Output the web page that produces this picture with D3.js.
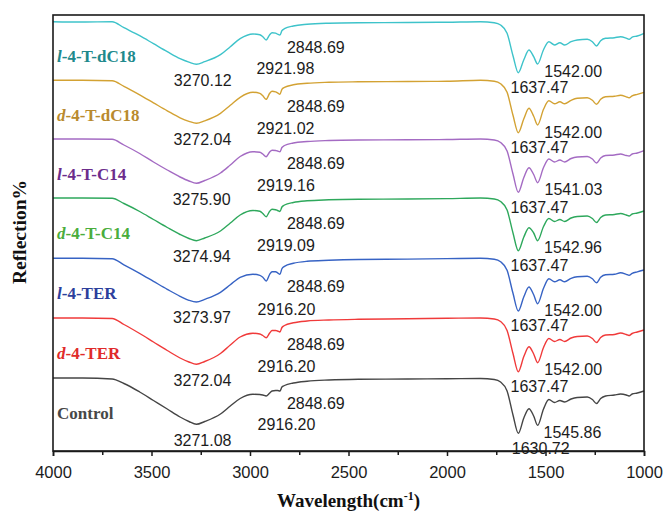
<!DOCTYPE html>
<html>
<head>
<meta charset="utf-8">
<script src="https://cdn.jsdelivr.net/npm/d3@7"></script>
<style>
  body { margin: 0; background: #fff; }
</style>
</head>
<body>
<div id="chart_ftir"></div>
<script>
// wavenumber grid shared by all spectra (cm-1)
var wavenumbers = [4000, 3850, 3700, 3640, 3560, 3490, 3420, 3355, 3310, 3272,
  3230, 3150, 3100, 3050, 2985, 2950, 2935, 2918, 2900, 2888,
  2870, 2860, 2848, 2838, 2825, 2780, 2710, 2600, 2450, 2200,
  2000, 1830, 1760, 1728, 1695, 1665, 1638, 1610, 1584, 1560,
  1540, 1510, 1483, 1454, 1427, 1403, 1370, 1339, 1288, 1262,
  1241, 1220, 1195, 1150, 1119, 1090, 1076, 1060, 1034, 1000];

// series names (top to bottom) and their vertical offsets
var names = ["l|-4-T-dC18", "d|-4-T-dC18", "l|-4-T-C14", "d|-4-T-C14", "l|-4-TER", "d|-4-TER", "|Control"];
var offsets = [429.3, 370.7, 312, 253, 192.7, 133, 73];

// absorption depth of each spectrum below its offset
var depth_l4TdC18 = [0, 0.3, 0, 6, 14, 22, 30, 37, 40.5, 42.6,
  40, 33, 25, 17, 12.3, 13, 15, 18.3, 13, 11,
  11.5, 12.5, 13.3, 9, 7, 4.3, 2.6, 1.5, 1, 0.8,
  0.5, 0, 1, 3.3, 11.6, 34, 51, 38, 28.3, 35,
  42.3, 28, 20, 23.3, 21, 23.3, 20, 18.3, 17.6, 20,
  24.3, 19, 16.6, 16, 15, 16.5, 17.6, 15.5, 14.3, 11.6];
var depth_d4TdC18 = [0, 0, 0.5, 6, 14.5, 22.5, 30.5, 37.5, 41, 43,
  40.5, 33, 25, 17, 12, 13, 15.5, 19, 13, 11,
  11.5, 12.5, 14, 9, 7, 4.5, 3, 2, 1.5, 1.2,
  1, 0, 1, 3.5, 12, 35, 52.4, 38.5, 28, 36,
  44.7, 29, 20.5, 23.5, 21.5, 23.5, 20, 18, 17.5, 20,
  24, 19, 16.5, 16, 15, 16.5, 17.5, 15.5, 14, 12];
var depth_l4TC14 = [0, 0, 0.3, 6, 14.5, 23, 31, 38, 42, 44.3,
  41.5, 34, 26, 17.5, 12.7, 13.3, 15, 17.7, 13, 11.3,
  11.5, 12, 12.7, 8.5, 6.5, 4, 2.5, 1.5, 1, 0.8,
  0.5, 0, 1, 3.5, 12, 35, 53.3, 38.5, 28.7, 35.5,
  43.7, 28.5, 20, 23, 21, 23, 19.5, 18, 17.5, 20,
  24, 19, 16.5, 16, 15, 16.5, 17, 15, 14, 11.7];
var depth_d4TC14 = [0, 0, 0.3, 5.5, 13.5, 21.5, 29.5, 36.5, 40.5, 42.7,
  40, 33, 25, 17, 12.5, 13.3, 15.5, 18.7, 13.2, 11.3,
  11.7, 12.5, 13.5, 9, 7, 4.5, 2.8, 1.8, 1.2, 1,
  0.6, 0, 1, 3.5, 12, 35, 52.7, 39, 29.7, 35,
  42.7, 28.5, 20.5, 23.5, 21.5, 23.5, 20, 18.5, 18, 20.5,
  24.5, 19.5, 17, 16.5, 15.5, 17, 18, 16, 15, 13];
var depth_l4TER = [0, 0, 0.5, 6.5, 15, 23, 31, 38, 42, 43.7,
  41, 34, 26.5, 19, 16, 17, 19, 22.7, 16, 13.5,
  13.5, 14.5, 16, 10.5, 8, 5, 3, 2, 1.2, 0.8,
  0.3, 0, 1, 3.5, 12, 35, 52.7, 38.5, 28.7, 36.5,
  45.4, 30, 20.5, 23.5, 21.5, 23.5, 20, 18.5, 18, 20.5,
  24.5, 19, 16.5, 16, 14.5, 16, 17, 15, 13.5, 11.7];
var depth_d4TER = [0, 0, 0.5, 6.5, 15.5, 24, 32.5, 40, 44, 46.3,
  43.5, 35.5, 27, 19, 15.3, 16, 17.5, 19.7, 15, 12.5,
  12.5, 13, 14, 9.5, 7.5, 4.8, 3, 2, 1.3, 0.8,
  0.3, 0, 1, 3.5, 12.5, 35.5, 53.7, 38.5, 28.7, 36,
  44.7, 29.5, 20.5, 23.5, 21.5, 23.5, 20, 18.5, 18, 20.5,
  24.5, 19.5, 17, 16.5, 15, 16.5, 17.5, 15.5, 14, 12];
var depth_control = [0, 0, 1, 5.5, 14, 22.5, 31, 39, 43.5, 46.3,
  43.5, 36, 28, 20.5, 16.3, 16.5, 17, 18, 15, 13,
  12.5, 12.5, 13, 9, 7.5, 5, 3.2, 2, 1.3, 1,
  0.7, 0.5, 1.5, 4, 13, 37, 55.3, 40, 30.7, 38,
  47.3, 31, 21.5, 24.5, 22.5, 24, 21, 19.5, 19, 21.5,
  25.5, 20.5, 18, 17, 16, 17, 18, 16, 15, 13];
var depths = [depth_l4TdC18, depth_d4TdC18, depth_l4TC14, depth_d4TC14, depth_l4TER, depth_d4TER, depth_control];

// peak labels: O-H, C-H asym, C-H sym, amide I, amide II
var peaks_l4TdC18 = ["3270.12", "2921.98", "2848.69", "1637.47", "1542.00"];
var peaks_d4TdC18 = ["3272.04", "2921.02", "2848.69", "1637.47", "1542.00"];
var peaks_l4TC14  = ["3275.90", "2919.16", "2848.69", "1637.47", "1541.03"];
var peaks_d4TC14  = ["3274.94", "2919.09", "2848.69", "1637.47", "1542.96"];
var peaks_l4TER   = ["3273.97", "2916.20", "2848.69", "1637.47", "1542.00"];
var peaks_d4TER   = ["3272.04", "2916.20", "2848.69", "1637.47", "1542.00"];
var peaks_control = ["3271.08", "2916.20", "2848.69", "1630.72", "1545.86"];
var peaks = [peaks_l4TdC18, peaks_d4TdC18, peaks_l4TC14, peaks_d4TC14, peaks_l4TER, peaks_d4TER, peaks_control];

var xTicks = [4000, 3500, 3000, 2500, 2000, 1500, 1000];
var xMinorTicks = [3750, 3250, 2750, 2250, 1750, 1250];

var lineColors = ["#3ec3ca", "#d3a233", "#a46bc3", "#2ea85c", "#3763c4", "#f03a3a", "#454545"];
var labelColors = ["#21898c", "#b98a2e", "#6c2c8c", "#4aad3c", "#2d3f9c", "#e02a2a", "#474747"];

// where each peak label sits relative to its curve point
var peakGridIdx = [9, 17, 22, 36, 40];
var peakDx = [6, 20, 36, 21, 36];
var peakDy = [15.5, 28.5, 12, 14.5, 7];

var margin = {top: 15, right: 20, bottom: 62, left: 53},
    width = 664 - margin.left - margin.right,
    height = 513 - margin.top - margin.bottom;

var svg = d3.select("#chart_ftir")
  .append("svg")
    .attr("width", 664)
    .attr("height", 513)
  .append("g")
    .attr("transform", "translate(" + margin.left + "," + margin.top + ")");

var x = d3.scaleLinear().domain([4000, 1000]).range([0, width]);
var y = d3.scaleLinear().domain([0, height]).range([height, 0]);

var serif = "'Liberation Serif','Times New Roman',serif";
var sans = "'Liberation Sans',Arial,sans-serif";

// spectra
var line = d3.line()
  .x(function(d) { return x(d[0]); })
  .y(function(d) { return y(d[1]); })
  .curve(d3.curveMonotoneX);

depths.forEach(function(dep, i) {
  var pts = wavenumbers.map(function(w, j) { return [w, offsets[i] - dep[j]]; });
  svg.append("path")
    .datum(pts)
    .attr("fill", "none")
    .attr("stroke", lineColors[i])
    .attr("stroke-width", 1.4)
    .attr("stroke-linejoin", "round")
    .attr("d", line);

  // series name
  var parts = names[i].split("|");
  var t = svg.append("text")
    .attr("x", 4)
    .attr("y", y(offsets[i]) + 40.5)
    .style("font-family", serif)
    .style("font-size", "17px")
    .style("font-weight", "bold")
    .attr("fill", labelColors[i]);
  if (parts[0]) t.append("tspan").style("font-style", "italic").text(parts[0]);
  t.append("tspan").text(parts[1]);

  // peak values
  peaks[i].forEach(function(p, k) {
    svg.append("text")
      .attr("x", x(+p) + peakDx[k])
      .attr("y", y(offsets[i] - dep[peakGridIdx[k]]) + peakDy[k])
      .attr("dy", "0.36em")
      .attr("text-anchor", "middle")
      .style("font-family", sans)
      .style("font-size", "16px")
      .attr("fill", "#1c1c1c")
      .text(p);
  });
});

// frame
svg.append("rect")
  .attr("x", 0).attr("y", 0)
  .attr("width", width).attr("height", height)
  .attr("fill", "none")
  .attr("stroke", "#1a1a1a")
  .attr("stroke-width", 1.6);

// X axis
var xAxis = svg.append("g")
  .attr("transform", "translate(0," + height + ")")
  .call(d3.axisBottom(x).tickValues(xTicks).tickSize(5).tickPadding(10).tickFormat(d3.format("d")));
xAxis.select(".domain").attr("stroke", "#1a1a1a").attr("stroke-width", 1.6);
xAxis.selectAll(".tick line").attr("stroke", "#1a1a1a").attr("stroke-width", 1.5);
xAxis.selectAll("text")
  .style("font-family", sans)
  .style("font-size", "16.5px")
  .attr("fill", "#1c1c1c");

svg.append("g")
  .attr("transform", "translate(0," + height + ")")
  .call(d3.axisBottom(x).tickValues(xMinorTicks).tickSize(4).tickFormat(""))
  .call(function(g) { g.select(".domain").remove(); })
  .selectAll(".tick line").attr("stroke", "#1a1a1a").attr("stroke-width", 1.5);

// axis titles
var xt = svg.append("text")
  .attr("x", 295.5)
  .attr("y", height + 56)
  .attr("text-anchor", "middle")
  .style("font-family", serif)
  .style("font-size", "19px")
  .style("font-weight", "bold")
  .attr("fill", "#111");
xt.append("tspan").text("Wavelength(cm");
xt.append("tspan").attr("dy", "-7").style("font-size", "12px").text("-1");
xt.append("tspan").attr("dy", "7").text(")");

svg.append("text")
  .attr("transform", "translate(" + (-27) + "," + (217) + ")rotate(-90)")
  .attr("text-anchor", "middle")
  .style("font-family", serif)
  .style("font-size", "19.5px")
  .style("font-weight", "bold")
  .attr("fill", "#111")
  .text("Reflection%");
</script>
</body>
</html>
